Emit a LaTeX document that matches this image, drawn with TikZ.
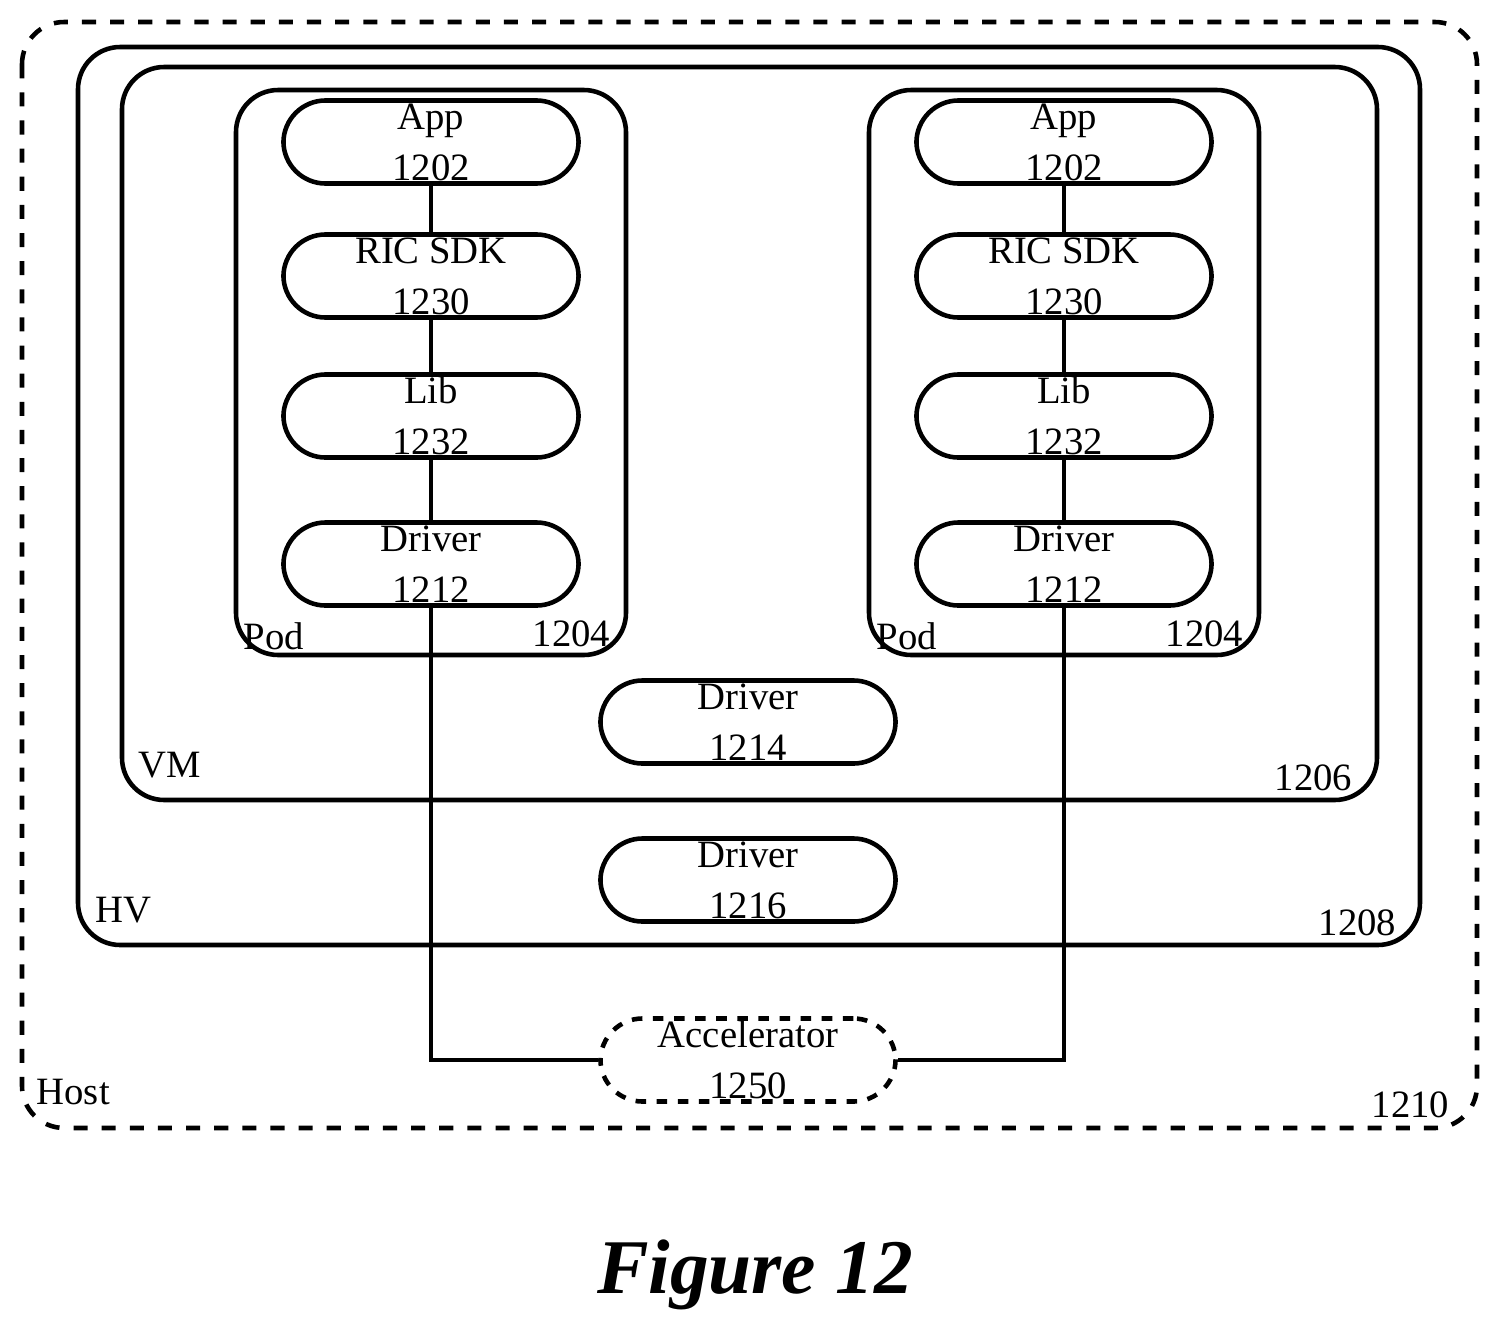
\documentclass[tikz,border=0pt]{standalone}
\usepackage{fontspec}
\setmainfont{Liberation Serif}
\usetikzlibrary{positioning}
\tikzset{
  blk/.style={draw, line width=1.3pt, rounded corners=12pt, minimum width=2.95cm, minimum height=0.83cm, align=center, inner sep=0pt, font=\fontsize{11}{14.5}\selectfont},
  frame/.style={draw, line width=1.3pt, rounded corners=12pt},
  lbl/.style={font=\fontsize{11}{13}\selectfont, inner sep=0pt},
  wire/.style={line width=1.3pt}
}
\begin{document}
\begin{tikzpicture}[x=0.01cm, y=-0.01cm]
  \useasboundingbox (0,0) rectangle (1499,1333);

  % host, hypervisor, vm
  \draw[frame, dash pattern=on 4pt off 4pt] (22,22) rectangle (1477,1128);
  \draw[frame] (78,47) rectangle (1420,945);
  \draw[frame] (122,67) rectangle (1377,800);

  \node[lbl, anchor=west] at (36,1092) {Host};
  \node[lbl, anchor=east] at (1450,1105) {1210};
  \node[lbl, anchor=west] at (95,910) {HV};
  \node[lbl, anchor=east] at (1397,923) {1208};
  \node[lbl, anchor=west] at (138,765) {VM};
  \node[lbl, anchor=east] at (1353,778) {1206};

  % pods
  \foreach \n/\x in {l/431, r/1064} {
    \draw[frame] (\x-195,90) rectangle (\x+195,655);
    \node[lbl, anchor=west] at (\x-188,636) {Pod};
    \node[lbl, anchor=east] at (\x+180,634) {1204};
    \node[blk] (app\n) at (\x,142) {App\\1202};
    \node[blk] (sdk\n) at (\x,276) {RIC SDK\\1230};
    \node[blk] (lib\n) at (\x,416) {Lib\\1232};
    \node[blk] (drv\n) at (\x,564) {Driver\\1212};
    \draw[wire] (app\n) -- (sdk\n);
    \draw[wire] (sdk\n) -- (lib\n);
    \draw[wire] (lib\n) -- (drv\n);
  }

  \node[blk] (drvvm) at (748,722) {Driver\\1214};
  \node[blk] (drvhv) at (748,880) {Driver\\1216};
  \node[blk, dash pattern=on 3pt off 3pt] (acc) at (748,1060) {Accelerator\\1250};

  \draw[wire] (drvl) |- (acc);
  \draw[wire] (drvr) |- (acc);

  \node[font=\fontsize{22}{26}\bfseries\itshape\selectfont] (fig) at (755,1275) {Figure 12};
\end{tikzpicture}
\end{document}
